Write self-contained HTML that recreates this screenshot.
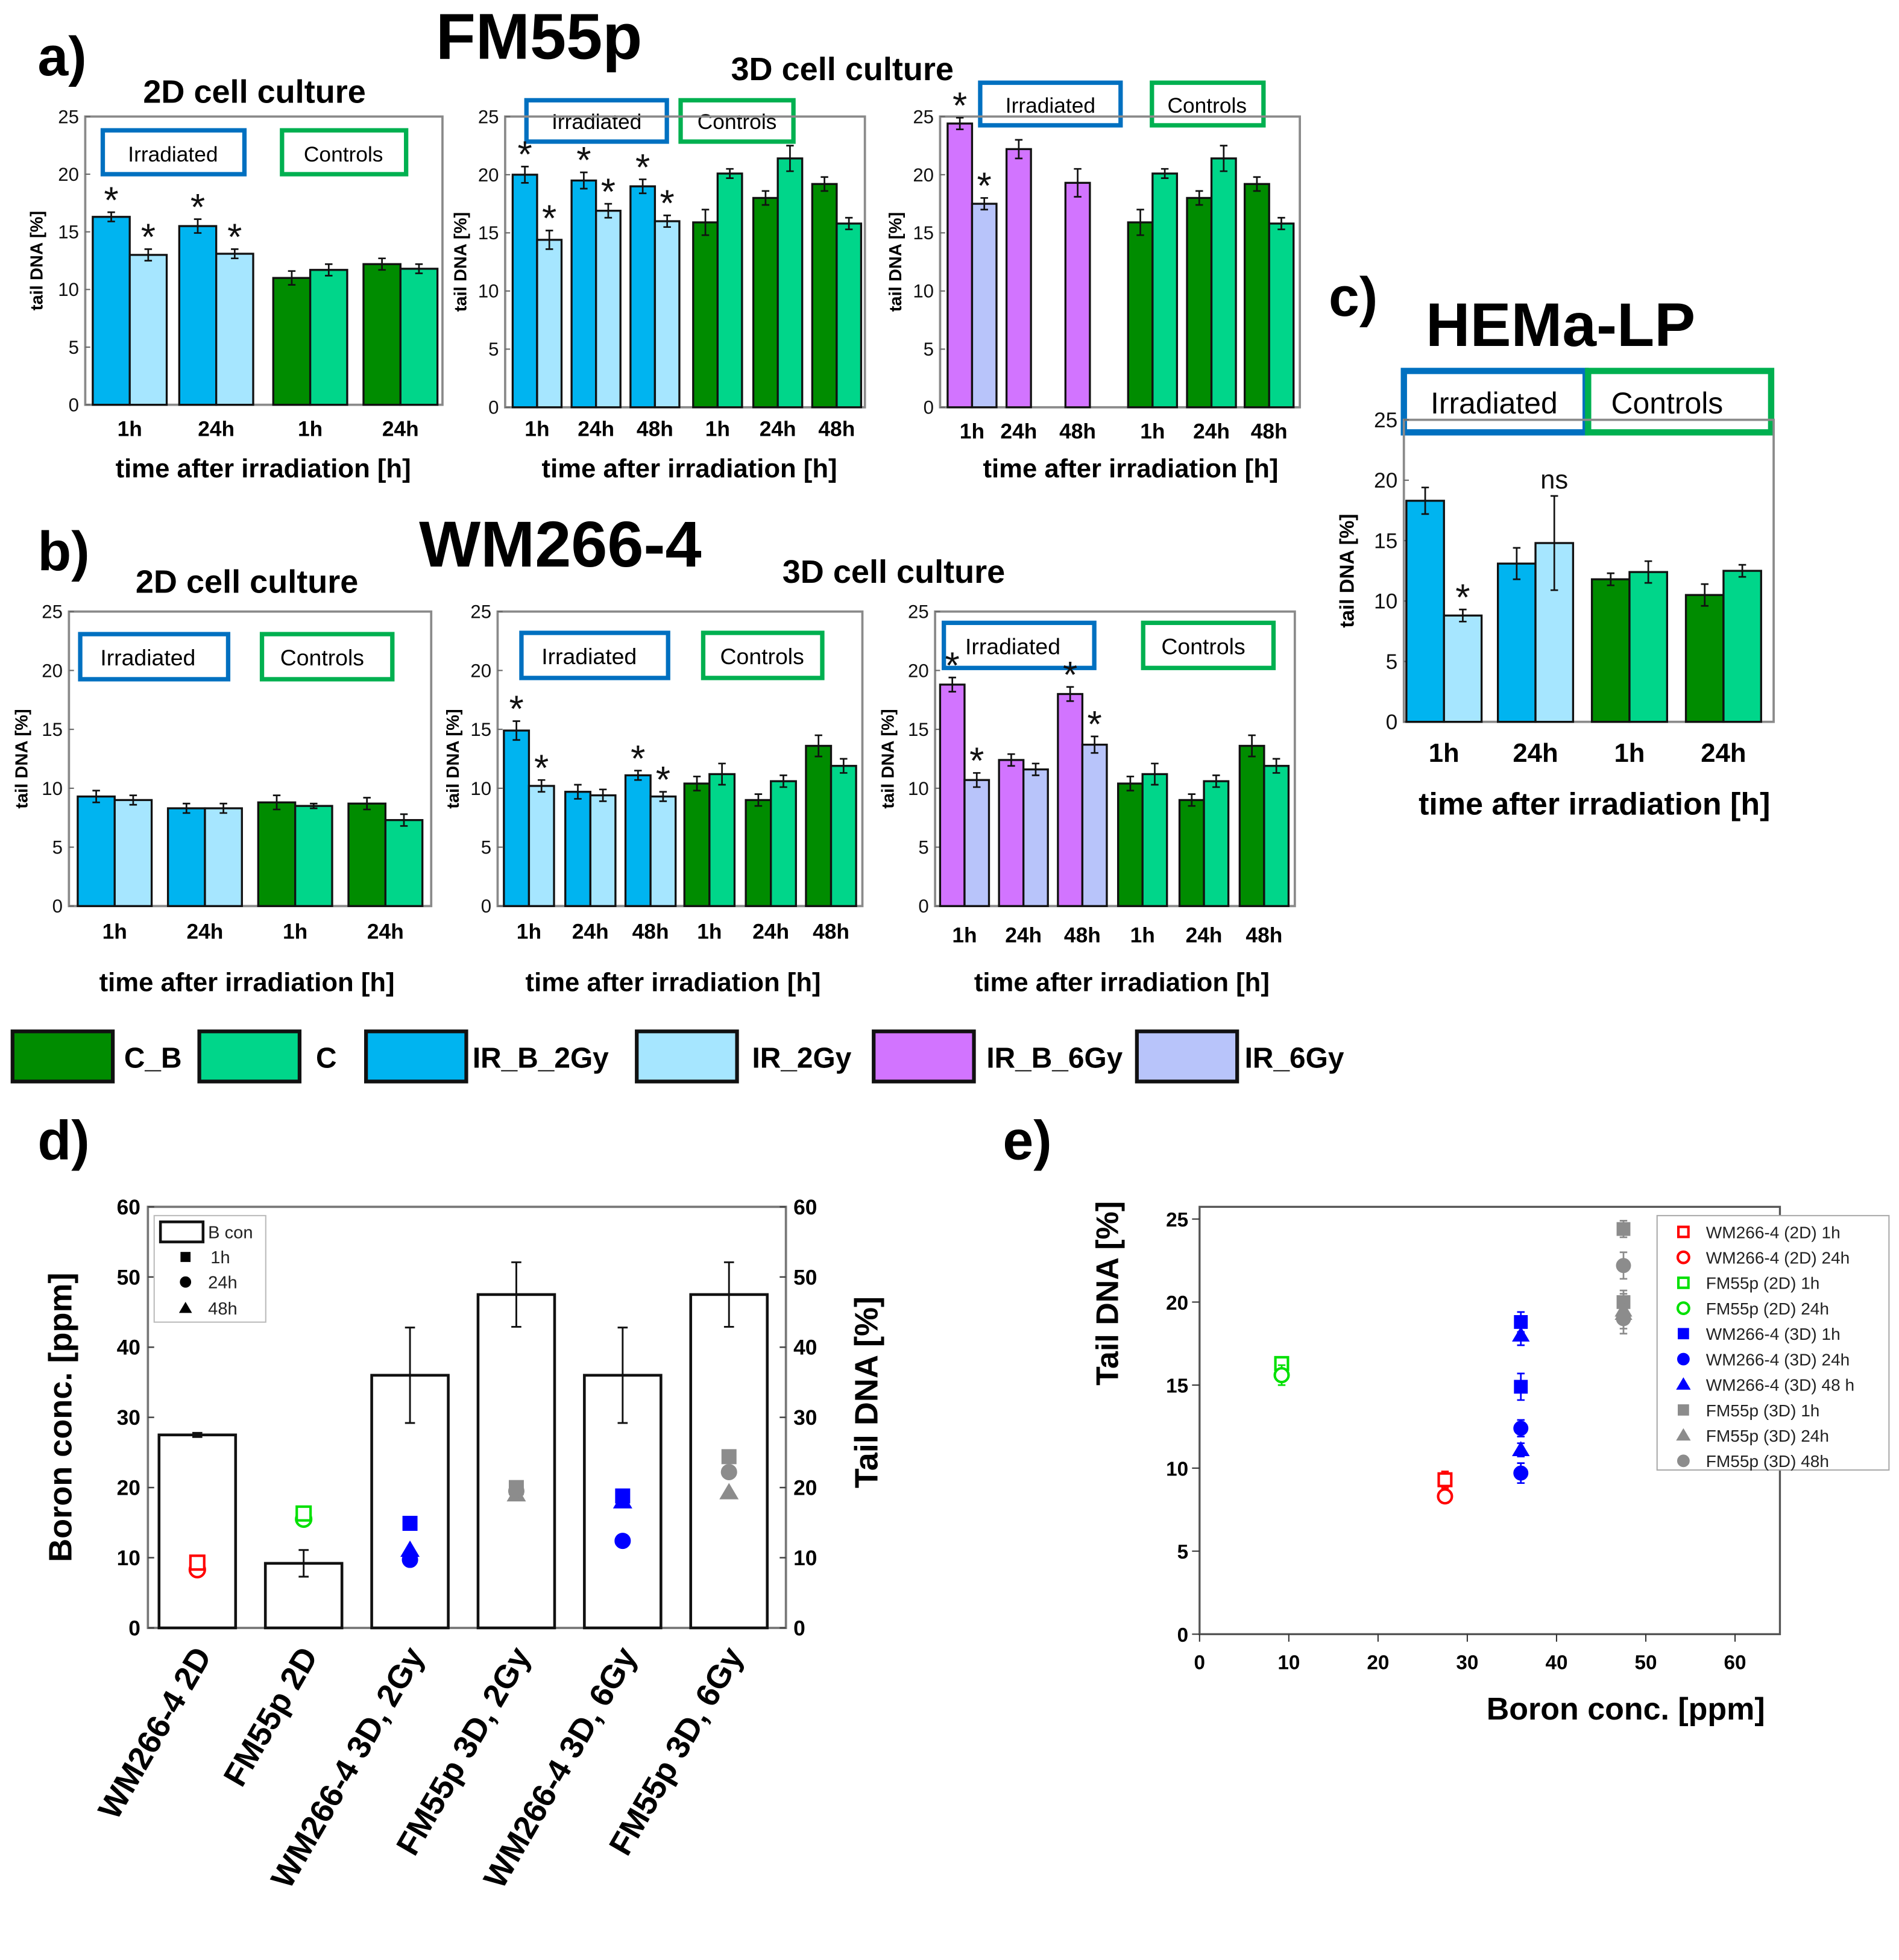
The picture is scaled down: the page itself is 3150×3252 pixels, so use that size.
<!DOCTYPE html>
<html><head><meta charset="utf-8"><style>
html,body{margin:0;padding:0;background:#fff}
svg{display:block}
text{font-family:"Liberation Sans",sans-serif}
.b{font-weight:bold}
</style></head><body>
<svg id="fig" width="3150" height="3252" viewBox="0 0 1515 1564" preserveAspectRatio="none" xmlns="http://www.w3.org/2000/svg">
<rect x="0" y="0" width="1515" height="1564" fill="#fff"/>
<g font-weight="bold" fill="#000">
<text x="30" y="60" font-size="44">a)</text>
<text x="430" y="47" font-size="52" text-anchor="middle">FM55p</text>
<text x="203" y="82" font-size="26" text-anchor="middle">2D cell culture</text>
<text x="672" y="64" font-size="26" text-anchor="middle">3D cell culture</text>
<text x="30" y="455" font-size="44">b)</text>
<text x="447" y="452" font-size="52" text-anchor="middle">WM266-4</text>
<text x="197" y="473" font-size="26" text-anchor="middle">2D cell culture</text>
<text x="713" y="465" font-size="26" text-anchor="middle">3D cell culture</text>
<text x="1060" y="252" font-size="44">c)</text>
<text x="1245" y="276" font-size="49" text-anchor="middle">HEMa-LP</text>
<text x="30" y="925" font-size="44">d)</text>
<text x="800" y="925" font-size="44">e)</text>
</g>
<g id="boxes" fill="#fff" stroke-width="3.5">
<rect x="82" y="104" width="113" height="35" stroke="#0070c0"/>
<text x="138" y="129" font-size="17" text-anchor="middle" fill="#000" stroke="none">Irradiated</text>
<rect x="225" y="104" width="99" height="35" stroke="#00b050"/>
<text x="274" y="129" font-size="17" text-anchor="middle" fill="#000" stroke="none">Controls</text>
<rect x="420" y="80" width="112" height="33" stroke="#0070c0"/>
<text x="476" y="103" font-size="17" text-anchor="middle" fill="#000" stroke="none">Irradiated</text>
<rect x="543" y="80" width="90" height="33" stroke="#00b050"/>
<text x="588" y="103" font-size="17" text-anchor="middle" fill="#000" stroke="none">Controls</text>
<rect x="782" y="66" width="112" height="34" stroke="#0070c0"/>
<text x="838" y="90" font-size="17" text-anchor="middle" fill="#000" stroke="none">Irradiated</text>
<rect x="919" y="66" width="89" height="34" stroke="#00b050"/>
<text x="963" y="90" font-size="17" text-anchor="middle" fill="#000" stroke="none">Controls</text>
<rect x="64" y="506" width="118" height="36" stroke="#0070c0"/>
<text x="118" y="531" font-size="18" text-anchor="middle" fill="#000" stroke="none">Irradiated</text>
<rect x="209" y="506" width="104" height="36" stroke="#00b050"/>
<text x="257" y="531" font-size="18" text-anchor="middle" fill="#000" stroke="none">Controls</text>
<rect x="416" y="505" width="117" height="36" stroke="#0070c0"/>
<text x="470" y="530" font-size="18" text-anchor="middle" fill="#000" stroke="none">Irradiated</text>
<rect x="561" y="505" width="95" height="36" stroke="#00b050"/>
<text x="608" y="530" font-size="18" text-anchor="middle" fill="#000" stroke="none">Controls</text>
<rect x="753" y="497" width="120" height="36" stroke="#0070c0"/>
<text x="808" y="522" font-size="18" text-anchor="middle" fill="#000" stroke="none">Irradiated</text>
<rect x="912" y="497" width="104" height="36" stroke="#00b050"/>
<text x="960" y="522" font-size="18" text-anchor="middle" fill="#000" stroke="none">Controls</text>
<rect x="1120" y="296" width="145" height="49" stroke="#0070c0" stroke-width="5"/>
<text x="1192" y="330" font-size="24" text-anchor="middle" fill="#000" stroke="none">Irradiated</text>
<rect x="1267" y="296" width="146" height="49" stroke="#00b050" stroke-width="5"/>
<text x="1330" y="330" font-size="24" text-anchor="middle" fill="#000" stroke="none">Controls</text>
</g>
<g id="plots"></g>
</svg>
<script>
// ---- data (tail DNA %) ----
const timeLabels4 = ['1h','24h','1h','24h'];
const timeLabels6 = ['1h','24h','48h','1h','24h','48h'];
const yTicks25 = [0,5,10,15,20,25];
const a1Dark = [16.3,15.5,11.0,12.2];
const a1Light = [13.0,13.1,11.7,11.8];
const a1DarkErr = [0.4,0.6,0.6,0.5];
const a1LightErr = [0.5,0.4,0.5,0.4];
const a2Dark = [20.0,19.5,19.0,15.9,18.0,19.2];
const a2Light = [14.4,16.9,16.0,20.1,21.4,15.8];
const a2DarkErr = [0.7,0.7,0.6,1.1,0.6,0.6];
const a2LightErr = [0.8,0.6,0.5,0.4,1.1,0.5];
const a3Dark = [24.4,22.2,19.3,15.9,18.0,19.2];
const a3Light = [17.5,null,null,20.1,21.4,15.8];
const a3DarkErr = [0.5,0.8,1.2,1.1,0.6,0.6];
const a3LightErr = [0.5,0,0,0.4,1.1,0.5];
const b1Dark = [9.3,8.3,8.8,8.7];
const b1Light = [9.0,8.3,8.5,7.3];
const b1DarkErr = [0.5,0.4,0.6,0.5];
const b1LightErr = [0.4,0.4,0.2,0.5];
const b2Dark = [14.9,9.7,11.1,10.4,9.0,13.6];
const b2Light = [10.2,9.4,9.3,11.2,10.6,11.9];
const b2DarkErr = [0.8,0.6,0.4,0.6,0.5,0.9];
const b2LightErr = [0.5,0.5,0.4,0.9,0.5,0.6];
const b3Dark = [18.8,12.4,18.0,10.4,9.0,13.6];
const b3Light = [10.7,11.6,13.7,11.2,10.6,11.9];
const b3DarkErr = [0.6,0.5,0.6,0.6,0.5,0.9];
const b3LightErr = [0.6,0.5,0.7,0.9,0.5,0.6];
const cDark = [18.3,13.1,11.8,10.5];
const cLight = [8.8,14.8,12.4,12.5];
const cDarkErr = [1.1,1.3,0.5,0.9];
const cLightErr = [0.5,3.9,0.9,0.5];
// significance markers: [groupIndex, 'd'|'l', text]
const a1Marks = [[0,'d','*'],[0,'l','*'],[1,'d','*'],[1,'l','*']];
const a2Marks = [[0,'d','*'],[0,'l','*'],[1,'d','*'],[1,'l','*'],[2,'d','*'],[2,'l','*']];
const a3Marks = [[0,'d','*'],[0,'l','*']];
const b1Marks = [];
const b2Marks = [[0,'d','*'],[0,'l','*'],[2,'d','*'],[2,'l','*']];
const b3Marks = [[0,'d','*'],[0,'l','*'],[2,'d','*'],[2,'l','*']];
const cMarks = [[0,'l','*'],[1,'l','ns']];
// panel d
const dCategories = ['WM266-4 2D','FM55p 2D','WM266-4 3D, 2Gy','FM55p 3D, 2Gy','WM266-4 3D, 6Gy','FM55p 3D, 6Gy'];
const dBoron = [27.5,9.2,36.0,47.5,36.0,47.5];
const dBoronErr = [0.3,1.9,6.8,4.6,6.8,4.6];
const dTicks = [0,10,20,30,40,50,60];
const tail1h = [9.3,16.3,14.9,20.0,18.8,24.4];
const tail24h = [8.3,15.5,9.7,19.5,12.4,22.2];
const tail48h = [null,null,11.1,19.0,18.0,19.3];
// panel e
const eXTicks = [0,10,20,30,40,50,60];
const eYTicks = [0,5,10,15,20,25];
const eSeriesNames = ['WM266-4 (2D) 1h','WM266-4 (2D) 24h','FM55p (2D) 1h','FM55p (2D) 24h','WM266-4 (3D) 1h','WM266-4 (3D) 24h','WM266-4 (3D) 48 h','FM55p (3D) 1h','FM55p (3D) 24h','FM55p (3D) 48h'];
const eBoron = [[27.5],[27.5],[9.2],[9.2],[36,36],[36,36],[36,36],[47.5,47.5],[47.5,47.5],[47.5,47.5]];
const eTail = [[9.3],[8.3],[16.3],[15.6],[18.8,14.9],[12.4,9.7],[18.0,11.1],[24.4,20.0],[19.5,19.3],[22.2,19.0]];
const eErr = [[0.5],[0.4],[0.4],[0.6],[0.6,0.8],[0.5,0.6],[0.6,0.4],[0.5,0.7],[0.6,1.2],[0.8,0.6]];

const NS='http://www.w3.org/2000/svg';
const root=document.getElementById('plots');
function mk(tag,attrs,parent){const e=document.createElementNS(NS,tag);for(const k in attrs)e.setAttribute(k,attrs[k]);(parent||root).appendChild(e);return e;}
const COL={blue:'#00b4f0',lblue:'#a6e6ff',purple:'#d274ff',lav:'#b8c4fa',dg:'#008c00',g:'#00d68a'};

function barPanel(name,L,dark,light,dErr,lErr,labels,marks){
  const g=mk('g',{});
  
  
  const y=v=>L.y1-(v/25)*(L.y1-L.y0);
  const fr=mk('rect',{x:L.x0,y:L.y0,width:L.x1-L.x0,height:L.y1-L.y0,fill:'none',stroke:'#8a8a8a','stroke-width':1.8},g);
  
  
  yTicks25.forEach(t=>{
    const tk=mk('line',{x1:L.x0,x2:L.x0+4,y1:y(t),y2:y(t),stroke:'#666','stroke-width':1},g);
    
    
    const tl=mk('text',{x:L.x0-5,y:y(t)+L.fs*0.35,'font-size':L.fs,'text-anchor':'end',fill:'#111'},g);
    
    
    tl.textContent=t;
  });
  const yl=mk('text',{x:0,y:0,'font-size':L.yfs,'font-weight':'bold','text-anchor':'middle',transform:`translate(${L.ylx},${(L.y0+L.y1)/2}) rotate(-90)`},g);
  
  
  yl.textContent='tail DNA [%]';
  const xl=mk('text',{x:L.xlx,y:L.xly,'font-size':L.xfs,'font-weight':'bold','text-anchor':'middle'},g);
  
  
  xl.textContent='time after irradiation [h]';
  const tops={};
  dark.forEach((v,i)=>{
    const cols=L.cols[i];
    [[v,dErr[i],0,'d'],[light[i],lErr[i],1,'l']].forEach(([val,er,k,key])=>{
      if(val===null||val===undefined)return;
      const bx=L.lefts[i]+k*L.bw;
      const r=mk('rect',{x:bx,y:y(val),width:L.bw,height:y(0)-y(val),fill:cols[k],stroke:'#111','stroke-width':1.6},g);
      
      
      const cx=bx+L.bw/2;
      const eb=mk('path',{d:`M${cx},${y(val+er)}V${y(val-er)}M${cx-3},${y(val+er)}h6M${cx-3},${y(val-er)}h6`,stroke:'#111','stroke-width':1.3,fill:'none'},g);
      
      
      tops[i+key]=[cx,y(val+er)];
    });
    const lb=mk('text',{x:L.lefts[i]+(light[i]===null?L.bw/2:L.bw),y:L.tly,'font-size':L.tfs,'font-weight':'bold','text-anchor':'middle'},g);
    
    
    lb.textContent=labels[i];
  });
  marks.forEach(([i,k,t])=>{
    const p=tops[i+k];
    const s=mk('text',{x:p[0],y:p[1]+(t==='*'?L.sfs*0.02:-6),'font-size':t==='*'?L.sfs:L.sfs*0.7,'text-anchor':'middle',fill:'#111'},g);
    
    
    s.textContent=t;
  });
}
const IR=[COL.blue,COL.lblue],IR6=[COL.purple,COL.lav],CT=[COL.dg,COL.g];
const base={fs:15,yfs:14,xfs:21,tfs:17,sfs:30};
barPanel('a1',Object.assign({},base,{x0:68,x1:353,y0:93,y1:323,lefts:[74,143,218,290],bw:29.5,cols:[IR,IR,CT,CT],ylx:34,xlx:210,xly:381,tly:348}),a1Dark,a1Light,a1DarkErr,a1LightErr,timeLabels4,a1Marks);
barPanel('a2',Object.assign({},base,{x0:403,x1:690,y0:93,y1:325,lefts:[409,456,503,553,601,648],bw:19.5,cols:[IR,IR,IR,CT,CT,CT],ylx:372,xlx:550,xly:381,tly:348}),a2Dark,a2Light,a2DarkErr,a2LightErr,timeLabels6,a2Marks);
barPanel('a3',Object.assign({},base,{x0:750,x1:1037,y0:93,y1:325,lefts:[756,803,850,900,947,993],bw:19.5,cols:[IR6,IR6,IR6,CT,CT,CT],ylx:719,xlx:902,xly:381,tly:350}),a3Dark,a3Light,a3DarkErr,a3LightErr,timeLabels6,a3Marks);
barPanel('b1',Object.assign({},base,{x0:55,x1:344,y0:488,y1:723,lefts:[62,134,206,278],bw:29.5,cols:[IR,IR,CT,CT],ylx:22,xlx:197,xly:791,tly:749}),b1Dark,b1Light,b1DarkErr,b1LightErr,timeLabels4,b1Marks);
barPanel('b2',Object.assign({},base,{x0:397,x1:688,y0:488,y1:723,lefts:[402,451,499,546,595,643],bw:20,cols:[IR,IR,IR,CT,CT,CT],ylx:366,xlx:537,xly:791,tly:749}),b2Dark,b2Light,b2DarkErr,b2LightErr,timeLabels6,b2Marks);
barPanel('b3',Object.assign({},base,{x0:746,x1:1033,y0:488,y1:723,lefts:[750,797,844,892,941,989],bw:19.5,cols:[IR6,IR6,IR6,CT,CT,CT],ylx:713,xlx:895,xly:791,tly:752}),b3Dark,b3Light,b3DarkErr,b3LightErr,timeLabels6,b3Marks);
barPanel('c',Object.assign({},base,{x0:1120,x1:1415,y0:335,y1:576,lefts:[1122,1195,1270,1345],bw:30,cols:[IR,IR,CT,CT],fs:17,yfs:16,xfs:25,tfs:21,sfs:30,ylx:1080,xlx:1272,xly:650,tly:608}),cDark,cLight,cDarkErr,cLightErr,timeLabels4,cMarks);

// legend row
const legNames=['C_B','C','IR_B_2Gy','IR_2Gy','IR_B_6Gy','IR_6Gy'];
const legCols=[COL.dg,COL.g,COL.blue,COL.lblue,COL.purple,COL.lav];
const legX=[10,159,292,508,697,907];
const legTX=[99,252,377,600,787,993];
legNames.forEach((n,i)=>{
  const r=mk('rect',{x:legX[i],y:823,width:80,height:40,fill:legCols[i],stroke:'#111','stroke-width':3});
  
  
  const t=mk('text',{x:legTX[i],y:852,'font-size':23,'font-weight':'bold'});
  
  
  t.textContent=n;
});

// markers
function marker(g,shape,cx,cy,s,color,filled){
  let e;
  const st=filled?{fill:color,stroke:color,'stroke-width':1}:{fill:'#fff',stroke:color,'stroke-width':2};
  if(shape==='s')e=mk('rect',Object.assign({x:cx-s/2,y:cy-s/2,width:s,height:s},st),g);
  else if(shape==='c')e=mk('circle',Object.assign({cx:cx,cy:cy,r:s/2},st),g);
  else e=mk('path',Object.assign({d:`M${cx},${cy-s*0.6}L${cx+s*0.62},${cy+s*0.45}L${cx-s*0.62},${cy+s*0.45}Z`},st),g);
  return e;
}

// panel d
(function(){
  const g=mk('g',{});
  
  
  const X0=118,X1=627,Y0=963,Y1=1299;
  const y=v=>Y1-(v/60)*(Y1-Y0);
  const step=(X1-X0)/dCategories.length;
  const cx=i=>X0+step*(i+0.5)-3;
  const fr=mk('rect',{x:X0,y:Y0,width:X1-X0,height:Y1-Y0,fill:'none',stroke:'#777','stroke-width':1.8},g);
  
  
  dTicks.forEach(t=>{
    const l=mk('text',{x:X0-6,y:y(t)+6,'font-size':17,'font-weight':'bold','text-anchor':'end'},g);
    
    
    l.textContent=t;
    const r=mk('text',{x:X1+6,y:y(t)+6,'font-size':17,'font-weight':'bold'},g);
    
    
    r.textContent=t;
    const tk=mk('path',{d:`M${X0},${y(t)}h5M${X1},${y(t)}h-5`,stroke:'#444','stroke-width':1.2},g);
    
    
  });
  const yl=mk('text',{x:0,y:0,'font-size':26,'font-weight':'bold','text-anchor':'middle',transform:`translate(57,${(Y0+Y1)/2}) rotate(-90)`},g);
  
  
  yl.textContent='Boron conc. [ppm]';
  const yr=mk('text',{x:0,y:0,'font-size':26,'font-weight':'bold','text-anchor':'middle',transform:`translate(700,${(Y0+Y1)/2-20}) rotate(-90)`},g);
  
  
  yr.textContent='Tail DNA [%]';
  dCategories.forEach((c,i)=>{
    const bw=step*0.72;
    const r=mk('rect',{x:cx(i)-bw/2,y:y(dBoron[i]),width:bw,height:y(0)-y(dBoron[i]),fill:'#fff',stroke:'#111','stroke-width':2.2},g);
    
    
    const e=dBoronErr[i];
    const eb=mk('path',{d:`M${cx(i)},${y(dBoron[i]+e)}V${y(dBoron[i]-e)}M${cx(i)-4},${y(dBoron[i]+e)}h8M${cx(i)-4},${y(dBoron[i]-e)}h8`,stroke:'#111','stroke-width':1.4,fill:'none'},g);
    
    
    const color=['#ff0000','#00e000','#0000ff','#8c8c8c','#0000ff','#8c8c8c'][i];
    const filled=i>=2;
    [[tail48h,'t'],[tail24h,'c'],[tail1h,'s']].forEach(([arr,sh])=>{
      if(arr[i]===null)return;
      const m=marker(g,sh,cx(i),y(arr[i]),sh==='c'?12:11,color,filled);
      
      
    });
    const lab=mk('text',{x:0,y:0,'font-size':26,'font-weight':'bold','text-anchor':'end',transform:`translate(${cx(i)+12},${Y1+22}) rotate(-60)`},g);
    
    
    lab.textContent=c;
  });
  const lb=mk('rect',{x:123,y:970,width:89,height:85,fill:'#fff',stroke:'#bbb','stroke-width':1},g);
  
  
  const sw=mk('rect',{x:128,y:975,width:34,height:16,fill:'#fff',stroke:'#111','stroke-width':2.2},g);
  
  
  const items=[['B con',166,988,null],['1h',168,1008,'s'],['24h',166,1028,'c'],['48h',166,1049,'t']];
  items.forEach(([t,x,yy,sh])=>{
    if(sh){const m=marker(g,sh,148,yy-5,sh==='c'?8:7,'#000',true);
      
      }
    const tx=mk('text',{x:x,y:yy,'font-size':14,fill:'#222'},g);
    
    
    tx.textContent=t;
  });
})();

// panel e
(function(){
  const g=mk('g',{});
  
  
  const X0=957,Y1=1304;
  const x=v=>X0+v*7.12, y=v=>Y1-v*13.25;
  const fr=mk('rect',{x:X0,y:963,width:1420-X0,height:Y1-963,fill:'none',stroke:'#555','stroke-width':1.6},g);
  
  
  eXTicks.forEach(t=>{
    const l=mk('text',{x:x(t),y:Y1+28,'font-size':16,'font-weight':'bold','text-anchor':'middle'},g);
    
    
    l.textContent=t;
    const tk=mk('line',{x1:x(t),x2:x(t),y1:Y1,y2:Y1+6,stroke:'#333'},g);
    
    
  });
  eYTicks.forEach(t=>{
    const l=mk('text',{x:X0-9,y:y(t)+6,'font-size':16,'font-weight':'bold','text-anchor':'end'},g);
    
    
    l.textContent=t;
    const tk=mk('line',{x1:X0-6,x2:X0,y1:y(t),y2:y(t),stroke:'#333'},g);
    
    
  });
  const xl=mk('text',{x:1297,y:1372,'font-size':25,'font-weight':'bold','text-anchor':'middle'},g);
  
  
  xl.textContent='Boron conc. [ppm]';
  const yl=mk('text',{x:0,y:0,'font-size':25,'font-weight':'bold','text-anchor':'middle',transform:`translate(892,1032) rotate(-90)`},g);
  
  
  yl.textContent='Tail DNA [%]';
  const shapes=['s','c','s','c','s','c','t','s','t','c'];
  const cols=['#ff0000','#ff0000','#00e000','#00e000','#0000ff','#0000ff','#0000ff','#8c8c8c','#8c8c8c','#8c8c8c'];
  const filled=[0,0,0,0,1,1,1,1,1,1];
  eSeriesNames.forEach((n,i)=>{
    eBoron[i].forEach((b,j)=>{
      const v=eTail[i][j],e=eErr[i][j];
      const eb=mk('path',{d:`M${x(b)},${y(v+e)}V${y(v-e)}M${x(b)-3},${y(v+e)}h6M${x(b)-3},${y(v-e)}h6`,stroke:cols[i],'stroke-width':1.3},g);
      
      
      const m=marker(g,shapes[i],x(b),y(v),shapes[i]==='c'?11:10,cols[i],!!filled[i]);
      
      
    });
  });
  const lb=mk('rect',{x:1322,y:970,width:185,height:203,fill:'#fff',stroke:'#aaa','stroke-width':1},g);
  
  
  eSeriesNames.forEach((n,i)=>{
    const yy=983+i*20.3;
    const m=marker(g,shapes[i],1343,yy,shapes[i]==='c'?9:8,cols[i],!!filled[i]);
    
    
    const t=mk('text',{x:1361,y:yy+5,'font-size':13.5,fill:'#222'},g);
    
    
    t.textContent=n;
  });
})();
</script>
</body></html>
